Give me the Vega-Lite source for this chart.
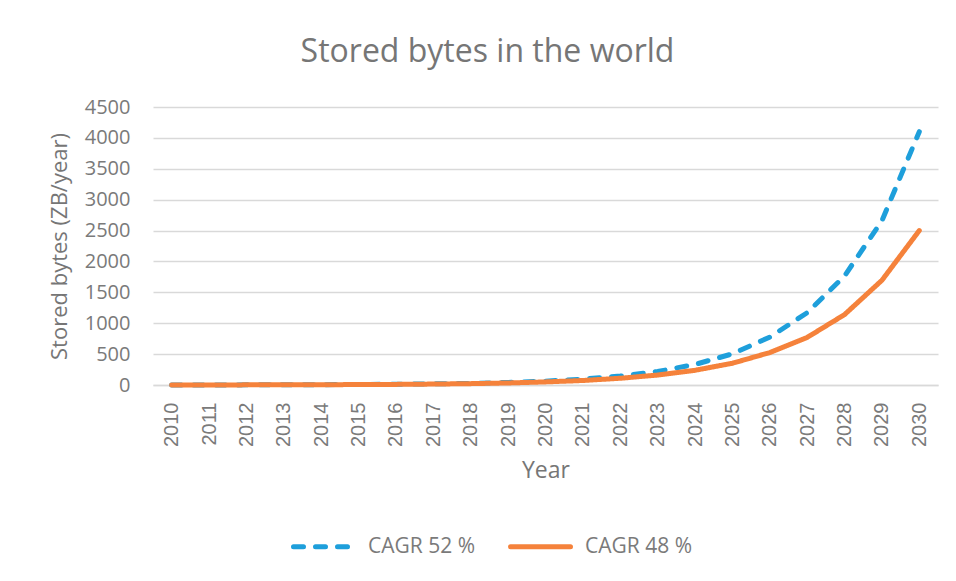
{
  "$schema": "https://vega.github.io/schema/vega-lite/v6.json",
  "autosize": "none",
  "width": 785,
  "height": 278,
  "padding": {"left": 153, "top": 107, "right": 18, "bottom": 196},
  "background": "white",
  "title": {
    "text": "Stored bytes in the world",
    "font": "Open Sans",
    "fontSize": 32,
    "fontWeight": "normal",
    "color": "#767676",
    "anchor": "middle",
    "dx": -58,
    "offset": 28
  },
  "data": {
    "values": [
      {"year": "2010", "series": "CAGR 52 %", "value": 1},
      {"year": "2011", "series": "CAGR 52 %", "value": 1.4},
      {"year": "2012", "series": "CAGR 52 %", "value": 2.2},
      {"year": "2013", "series": "CAGR 52 %", "value": 3.3},
      {"year": "2014", "series": "CAGR 52 %", "value": 5.1},
      {"year": "2015", "series": "CAGR 52 %", "value": 7.7},
      {"year": "2016", "series": "CAGR 52 %", "value": 12},
      {"year": "2017", "series": "CAGR 52 %", "value": 18},
      {"year": "2018", "series": "CAGR 52 %", "value": 27},
      {"year": "2019", "series": "CAGR 52 %", "value": 41},
      {"year": "2020", "series": "CAGR 52 %", "value": 62},
      {"year": "2021", "series": "CAGR 52 %", "value": 95},
      {"year": "2022", "series": "CAGR 52 %", "value": 144},
      {"year": "2023", "series": "CAGR 52 %", "value": 219},
      {"year": "2024", "series": "CAGR 52 %", "value": 332},
      {"year": "2025", "series": "CAGR 52 %", "value": 505},
      {"year": "2026", "series": "CAGR 52 %", "value": 775},
      {"year": "2027", "series": "CAGR 52 %", "value": 1170},
      {"year": "2028", "series": "CAGR 52 %", "value": 1765},
      {"year": "2029", "series": "CAGR 52 %", "value": 2660},
      {"year": "2030", "series": "CAGR 52 %", "value": 4100},
      {"year": "2010", "series": "CAGR 48 %", "value": 1},
      {"year": "2011", "series": "CAGR 48 %", "value": 1.4},
      {"year": "2012", "series": "CAGR 48 %", "value": 2.1},
      {"year": "2013", "series": "CAGR 48 %", "value": 3.2},
      {"year": "2014", "series": "CAGR 48 %", "value": 4.7},
      {"year": "2015", "series": "CAGR 48 %", "value": 7},
      {"year": "2016", "series": "CAGR 48 %", "value": 10},
      {"year": "2017", "series": "CAGR 48 %", "value": 15},
      {"year": "2018", "series": "CAGR 48 %", "value": 22},
      {"year": "2019", "series": "CAGR 48 %", "value": 33},
      {"year": "2020", "series": "CAGR 48 %", "value": 50},
      {"year": "2021", "series": "CAGR 48 %", "value": 73},
      {"year": "2022", "series": "CAGR 48 %", "value": 109},
      {"year": "2023", "series": "CAGR 48 %", "value": 161},
      {"year": "2024", "series": "CAGR 48 %", "value": 238},
      {"year": "2025", "series": "CAGR 48 %", "value": 352},
      {"year": "2026", "series": "CAGR 48 %", "value": 525},
      {"year": "2027", "series": "CAGR 48 %", "value": 770},
      {"year": "2028", "series": "CAGR 48 %", "value": 1140},
      {"year": "2029", "series": "CAGR 48 %", "value": 1695},
      {"year": "2030", "series": "CAGR 48 %", "value": 2500}
    ]
  },
  "encoding": {
    "x": {
      "field": "year",
      "type": "ordinal",
      "scale": {"type": "point", "padding": 0.5},
      "axis": {
        "title": "Year",
        "titleFont": "Open Sans",
        "titleFontSize": 23,
        "titleFontWeight": "normal",
        "titleColor": "#767676",
        "titlePadding": 13,
        "labelAngle": -90,
        "labelFont": "Liberation Sans",
        "labelFontSize": 20,
        "labelColor": "#7a7a7a",
        "labelPadding": 17,
        "ticks": false,
        "grid": false,
        "domainColor": "#d9d9d9",
        "domainWidth": 1.5
      }
    },
    "y": {
      "field": "value",
      "type": "quantitative",
      "scale": {"domain": [0, 4500], "nice": false},
      "axis": {
        "title": "Stored bytes (ZB/year)",
        "titleFont": "Open Sans",
        "titleFontSize": 22,
        "titleFontWeight": "normal",
        "titleColor": "#767676",
        "titlePadding": 13,
        "values": [0, 500, 1000, 1500, 2000, 2500, 3000, 3500, 4000, 4500],
        "format": "d",
        "labelFont": "Open Sans",
        "labelFontSize": 20,
        "labelColor": "#7a7a7a",
        "labelPadding": 23,
        "ticks": false,
        "domain": false,
        "gridColor": "#d9d9d9",
        "gridWidth": 1.5
      }
    },
    "color": {
      "field": "series",
      "type": "nominal",
      "scale": {"domain": ["CAGR 52 %", "CAGR 48 %"], "range": ["#1e9fdb", "#f5823b"]},
      "legend": {
        "title": null,
        "orient": "none",
        "direction": "horizontal",
        "legendX": 138,
        "legendY": 407,
        "symbolType": "stroke",
        "symbolSize": 3600,
        "symbolStrokeWidth": 5,
        "labelFont": "Open Sans",
        "labelFontSize": 21,
        "labelColor": "#7a7a7a",
        "labelOffset": 12,
        "columnPadding": 24,
        "encode": {
          "symbols": {"update": {"strokeCap": {"value": "round"}}}
        }
      }
    },
    "strokeDash": {
      "field": "series",
      "type": "nominal",
      "scale": {"domain": ["CAGR 52 %", "CAGR 48 %"], "range": [[10, 12], [1, 0]]},
      "legend": null
    }
  },
  "layer": [
    {
      "transform": [{"filter": "datum.series === 'CAGR 52 %'"}],
      "mark": {"type": "line", "strokeWidth": 5, "strokeCap": "round"}
    },
    {
      "transform": [{"filter": "datum.series === 'CAGR 48 %'"}],
      "mark": {"type": "line", "strokeWidth": 5, "strokeCap": "round"}
    }
  ],
  "config": {"view": {"stroke": null}}
}
